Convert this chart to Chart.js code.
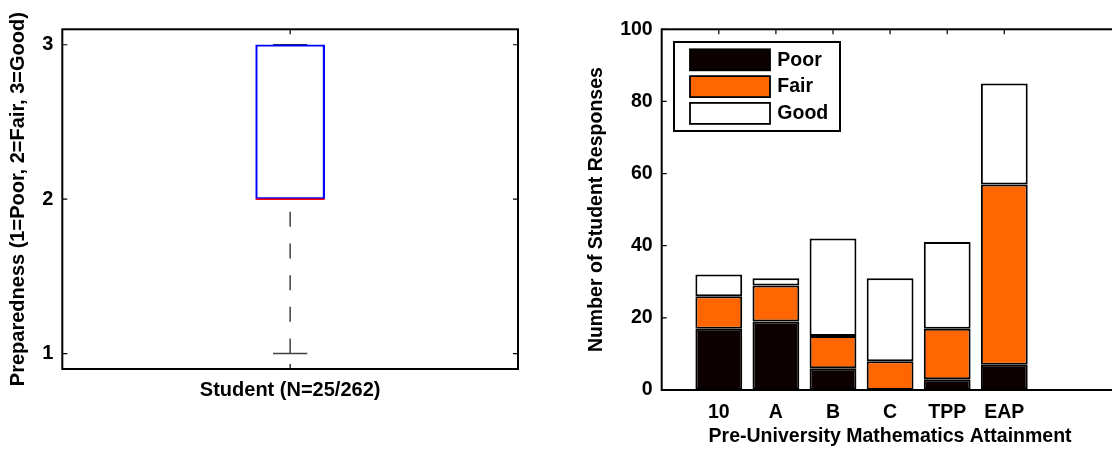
<!DOCTYPE html>
<html>
<head>
    <title>Preparedness and Mathematics Attainment</title>
    <meta charset="utf-8">
    <script src="https://cdn.jsdelivr.net/npm/chart.js"></script>
    <style>
        body {
            margin: 0;
            width: 1112px;
            height: 453px;
            overflow: hidden;
            background: #fff;
            position: relative;
        }
        #boxChart {
            position: absolute;
            left: 0;
            top: 0;
        }
        #barChart {
            position: absolute;
            left: 560px;
            top: 0;
        }
    </style>
</head>
<body>
    <canvas id="boxChart" width="560" height="453"></canvas>
    <canvas id="barChart" width="570" height="453"></canvas>
    <script>
        // left panel: box plot of preparedness
        const boxLabel = "Student (N=25/262)";
        const boxQuartiles = [2, 2, 3];   // q1, median, q3
        const boxWhiskers = [1, 3];       // lower, upper
        const prepTicks = [1, 2, 3];

        // right panel: stacked counts
        const categories = ["10", "A", "B", "C", "TPP", "EAP"];
        const seriesNames = ["Poor", "Fair", "Good"];
        const poorCounts = [17, 19, 6, 0, 3, 7];
        const fairCounts = [9, 10, 9, 8, 14, 50];
        const goodCounts = [6, 2, 27, 23, 24, 28];
        const countTicks = [0, 20, 40, 60, 80, 100];

        const FONT = "'Liberation Sans', Arial, Helvetica, sans-serif";
        const seriesColors = ["#0d0000", "#ff6600", "#ffffff"];

        // matlab style: ticks point inward, box around the axes
        const axesBox = {
            id: "axesBox",
            beforeDatasetsDraw(chart) {
                const { ctx, chartArea: a, scales: { x, y } } = chart;
                ctx.save();
                ctx.strokeStyle = "#000";
                ctx.lineWidth = 1.2;
                ctx.beginPath();
                y.ticks.forEach(t => {
                    const py = y.getPixelForValue(t.value);
                    ctx.moveTo(a.left, py); ctx.lineTo(a.left + 5, py);
                    ctx.moveTo(a.right, py); ctx.lineTo(a.right - 5, py);
                });
                x.ticks.forEach(t => {
                    const px = x.getPixelForValue(t.value);
                    ctx.moveTo(px, a.top); ctx.lineTo(px, a.top + 5);
                    ctx.moveTo(px, a.bottom); ctx.lineTo(px, a.bottom - 5);
                });
                ctx.stroke();
                ctx.restore();
            },
            afterDatasetsDraw(chart) {
                const { ctx, chartArea: a } = chart;
                ctx.save();
                ctx.strokeStyle = "#000";
                ctx.lineWidth = 2;
                ctx.strokeRect(a.left, a.top, a.right - a.left, a.bottom - a.top);
                ctx.restore();
            }
        };

        // legend box inside the axes (top left)
        const insideLegend = {
            id: "insideLegend",
            afterDraw(chart) {
                const { ctx, chartArea: a } = chart;
                const x0 = a.left + 12.3, y0 = a.top + 12.7;
                ctx.save();
                ctx.fillStyle = "#fff";
                ctx.fillRect(x0, y0, 166, 89);
                ctx.strokeStyle = "#000";
                ctx.lineWidth = 2;
                ctx.strokeRect(x0, y0, 166, 89);
                ctx.font = "bold 19.5px " + FONT;
                ctx.textBaseline = "middle";
                chart.data.datasets.forEach((ds, i) => {
                    const sy = y0 + 7.3 + i * 26.8;
                    ctx.fillStyle = ds.backgroundColor;
                    ctx.fillRect(x0 + 16, sy, 80, 21);
                    ctx.lineWidth = 1.8;
                    ctx.strokeRect(x0 + 16, sy, 80, 21);
                    ctx.fillStyle = "#000";
                    ctx.fillText(ds.label, x0 + 103.3, sy + 11);
                });
                ctx.restore();
            }
        };

        Chart.defaults.font.family = FONT;
        Chart.defaults.color = "#000";

        const boxHalf = 0.151;
        const capHalf = 0.075;
        const lineBase = { type: "line", pointRadius: 0, fill: false, borderWidth: 1.5 };

        new Chart(document.getElementById("boxChart"), {
            data: {
                datasets: [
                    {
                        ...lineBase,
                        data: [{ x: 1, y: boxWhiskers[0] }, { x: 1, y: boxQuartiles[0] }],
                        borderColor: "#404040",
                        borderDash: [15, 16.7],
                        order: 5
                    },
                    {
                        ...lineBase,
                        data: [{ x: 1 - capHalf, y: boxWhiskers[0] }, { x: 1 + capHalf, y: boxWhiskers[0] }],
                        borderColor: "#404040",
                        order: 5
                    },
                    {
                        ...lineBase,
                        data: [{ x: 1 - capHalf, y: boxWhiskers[1] }, { x: 1 + capHalf, y: boxWhiskers[1] }],
                        borderColor: "#202060",
                        order: 5
                    },
                    {
                        type: "bar",
                        data: [{ x: 1, y: [boxQuartiles[0], boxQuartiles[2]] }],
                        backgroundColor: "rgba(255,255,255,0)",
                        borderColor: "#0000ff",
                        borderWidth: 1.5,
                        borderSkipped: false,
                        barThickness: 69,
                        order: 3
                    },
                    {
                        ...lineBase,
                        data: [{ x: 1 - boxHalf, y: boxQuartiles[1] }, { x: 1 + boxHalf, y: boxQuartiles[1] }],
                        borderColor: "#ff0000",
                        order: 1
                    }
                ]
            },
            options: {
                responsive: false,
                devicePixelRatio: 1,
                animation: false,
                layout: { padding: { left: 0, top: 29.3, right: 42, bottom: 0 } },
                plugins: { legend: { display: false }, tooltip: { enabled: false } },
                scales: {
                    x: {
                        type: "linear",
                        min: 0,
                        max: 2,
                        offset: false,
                        grid: { display: false, drawTicks: false },
                        border: { display: false },
                        afterFit: s => { s.height = 84; },
                        afterBuildTicks: s => { s.ticks = [{ value: 1 }]; },
                        ticks: {
                            padding: 9,
                            maxRotation: 0,
                            font: { size: 20, weight: "bold" },
                            callback: () => boxLabel
                        }
                    },
                    y: {
                        min: 0.9,
                        max: 3.1,
                        grid: { display: false, drawTicks: false },
                        border: { display: false },
                        afterFit: s => { s.width = 62.3; },
                        afterBuildTicks: s => { s.ticks = prepTicks.map(v => ({ value: v })); },
                        ticks: { padding: 9, font: { size: 20, weight: "bold" } },
                        title: {
                            display: true,
                            text: "Preparedness (1=Poor, 2=Fair, 3=Good)",
                            font: { size: 20, weight: "bold" },
                            padding: { top: 6, bottom: 0 }
                        }
                    }
                }
            },
            plugins: [axesBox]
        });

        const counts = [poorCounts, fairCounts, goodCounts];

        new Chart(document.getElementById("barChart"), {
            type: "bar",
            data: {
                datasets: seriesNames.map((name, i) => ({
                    label: name,
                    data: counts[i].map((v, j) => ({ x: j + 1, y: v })),
                    backgroundColor: seriesColors[i],
                    borderColor: "#000",
                    borderWidth: 2,
                    borderSkipped: false,
                    categoryPercentage: 1,
                    barPercentage: 0.82
                }))
            },
            options: {
                responsive: false,
                devicePixelRatio: 1,
                animation: false,
                layout: { padding: { left: 0, top: 29.3, right: 11.5, bottom: 0 } },
                plugins: { legend: { display: false }, tooltip: { enabled: false } },
                scales: {
                    x: {
                        type: "linear",
                        min: 0,
                        max: 8,
                        offset: false,
                        stacked: true,
                        grid: { display: false, drawTicks: false },
                        border: { display: false },
                        afterFit: s => { s.height = 63; },
                        afterBuildTicks: s => { s.ticks = categories.map((c, i) => ({ value: i + 1 })); },
                        ticks: {
                            padding: 11,
                            maxRotation: 0,
                            autoSkip: false,
                            font: { size: 19.5, weight: "bold" },
                            callback: v => categories[v - 1]
                        },
                        title: {
                            display: true,
                            text: "Pre-University Mathematics Attainment",
                            font: { size: 19.5, weight: "bold" },
                            padding: { top: 0, bottom: 5 }
                        }
                    },
                    y: {
                        min: 0,
                        max: 100,
                        stacked: true,
                        grid: { display: false, drawTicks: false },
                        border: { display: false },
                        afterFit: s => { s.width = 101.7; },
                        afterBuildTicks: s => { s.ticks = countTicks.map(v => ({ value: v })); },
                        ticks: { padding: 9, font: { size: 19.5, weight: "bold" } },
                        title: {
                            display: true,
                            text: "Number of Student Responses",
                            font: { size: 19.5, weight: "bold" },
                            padding: { top: 25, bottom: 0 }
                        }
                    }
                }
            },
            plugins: [axesBox, insideLegend]
        });
    </script>
</body>
</html>
